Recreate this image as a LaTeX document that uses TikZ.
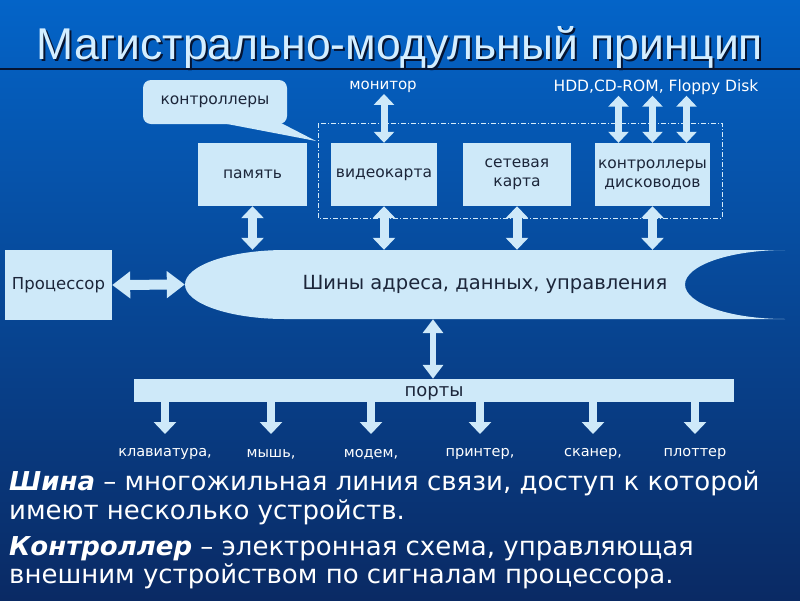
\documentclass[tikz,border=0pt]{standalone}
\usepackage{fontspec}
\setmainfont{DejaVu Sans}
\newfontfamily\titlefont{Liberation Sans}
\usetikzlibrary{arrows.meta,calc}
\definecolor{bgtop}{RGB}{4,100,200}
\definecolor{bgmid}{RGB}{14,72,158}
\definecolor{bgbot}{RGB}{10,42,100}
\definecolor{boxfill}{RGB}{206,233,249}
\definecolor{boxtext}{RGB}{28,38,58}
\definecolor{titlecol}{RGB}{212,238,255}
\definecolor{shadowcol}{RGB}{5,20,50}
\begin{document}
\begin{tikzpicture}[x=1pt,y=-1pt,
  ubox/.style={fill=boxfill,text=boxtext,inner sep=0pt,align=center,font=\fontsize{15.5}{18.5}\selectfont},
  lbl/.style={text=white,inner sep=1pt,font=\fontsize{15}{18}\selectfont},
  dbl/.style={draw=boxfill,line width=9pt,{Triangle[width=22pt,length=12pt]}-{Triangle[width=22pt,length=12pt]}},
  dbltop/.style={draw=boxfill,line width=7pt,{Triangle[width=20pt,length=11pt]}-{Triangle[width=20pt,length=11pt]}},
  dblwide/.style={draw=boxfill,line width=10pt,{Triangle[width=26pt,length=18pt]}-{Triangle[width=26pt,length=18pt]}},
  dblthin/.style={draw=boxfill,line width=6pt,{Triangle[width=20pt,length=14pt]}-{Triangle[width=20pt,length=14pt]}},
  sgl/.style={draw=boxfill,line width=8pt,-{Triangle[width=22pt,length=12pt]}},
  txtfont/.style={font=\fontsize{26}{30}\selectfont},
]
\useasboundingbox (0,0) rectangle (800,600);
\shade[top color=bgtop,middle color=bgmid,bottom color=bgbot] (0,0) rectangle (800,600);

% title
\node[font=\titlefont\fontsize{44.5}{50}\selectfont,text=shadowcol,anchor=base,inner sep=0pt] (titlesh) at (402,61) {Магистрально-модульный принцип};
\node[font=\titlefont\fontsize{44.5}{50}\selectfont,text=titlecol,anchor=base,inner sep=0pt] (title) at (400,59) {Магистрально-модульный принцип};
\draw[line width=2.5pt,shadowcol] (0,69) -- (800,69);

% callout
\node[fill=boxfill,rounded corners=8pt,minimum width=144pt,minimum height=44pt,inner sep=0pt,text=boxtext,font=\fontsize{15.5}{18}\selectfont] (ctl) at (215,102) {контроллеры};
\fill[boxfill] (222,123) -- (316,141) -- (281,123) -- cycle;

% dashed group
\draw[boxfill!85!white,line width=0.8pt,dash pattern=on 5pt off 2pt on 1pt off 2pt] (318,123) rectangle (722,218);

% top labels
\node[lbl] (mon) at (383,87) {монитор};
\node[lbl,font=\fontsize{15.5}{18}\selectfont] (hdd) at (656,87) {HDD,CD-ROM, Floppy Disk};

% modules
\node[ubox,minimum width=109pt,minimum height=63pt] (mem) at (252.5,174.5) {память};
\node[ubox,minimum width=106pt,minimum height=63pt] (vid) at (384,174.5) {видеокарта};
\node[ubox,minimum width=108pt,minimum height=63pt] (net) at (517,174.5) {сетевая\\карта};
\node[ubox,minimum width=115pt,minimum height=63pt] (dsk) at (652.5,174.5) {контроллеры\\дисководов};
\node[ubox,minimum width=107pt,minimum height=70pt,font=\fontsize{16.5}{19}\selectfont] (cpu) at (58.5,285) {Процессор};

% bus
\fill[boxfill] (285,250) -- (785,250) arc[start angle=90,end angle=270,x radius=100pt,y radius=34.5pt]
  -- (285,319) arc[start angle=270,end angle=90,x radius=100pt,y radius=34.5pt] -- cycle;
\node[minimum width=600pt,minimum height=69pt,inner sep=0pt,text=boxtext,font=\fontsize{19.5}{23}\selectfont] (bus) at (485,284.5) {Шины адреса, данных, управления};

% ports
\node[fill=boxfill,minimum width=600pt,minimum height=23pt,inner sep=0pt,text height=12pt,text depth=0pt,text=boxtext,font=\fontsize{18}{21}\selectfont] (ports) at (434,390.5) {порты};

% arrows top
\draw[dbltop] (vid.north |- mon.south) -- (vid.north);
\foreach \i/\dx in {1/-34,2/0,3/34} {
  \coordinate (d\i) at ($(dsk.north)+(\dx,0)$);
  \draw[dbltop] (hdd.south -| d\i) -- (d\i);
}
% arrows to bus
\foreach \m in {mem,vid,net,dsk} \draw[dbl] (\m.south) -- (\m.south |- bus.north);
\draw[dblwide] (cpu.east) -- (bus.west);
\coordinate (bp) at (433,0);
\draw[dblthin] (bus.south -| bp) -- (ports.north -| bp);

% port devices
\coordinate (tipy) at (0,434);
\foreach \i/\x/\t in {1/165/{клавиатура,},2/271/{мышь,},3/371/{модем,},4/480/{принтер,},5/593/{сканер,},6/695/{плоттер}} {
  \node[lbl,font=\fontsize{14.5}{17}\selectfont] (l\i) at (\x,454) {\t};
  \draw[sgl] (ports.south -| l\i) -- (tipy -| l\i);
}

% definitions
\node[txtfont,text=white,anchor=base west,inner sep=0pt] (t1) at (9,490) {\textbf{\textit{Шина}} – многожильная линия связи, доступ к которой};
\node[txtfont,text=white,anchor=base west,inner sep=0pt] (t2) at (9,519) {имеют несколько устройств.};
\node[txtfont,text=white,anchor=base west,inner sep=0pt] (t3) at (9,555) {\textbf{\textit{Контроллер}} – электронная схема, управляющая};
\node[txtfont,text=white,anchor=base west,inner sep=0pt] (t4) at (9,583) {внешним устройством по сигналам процессора.};
\end{tikzpicture}
\end{document}
